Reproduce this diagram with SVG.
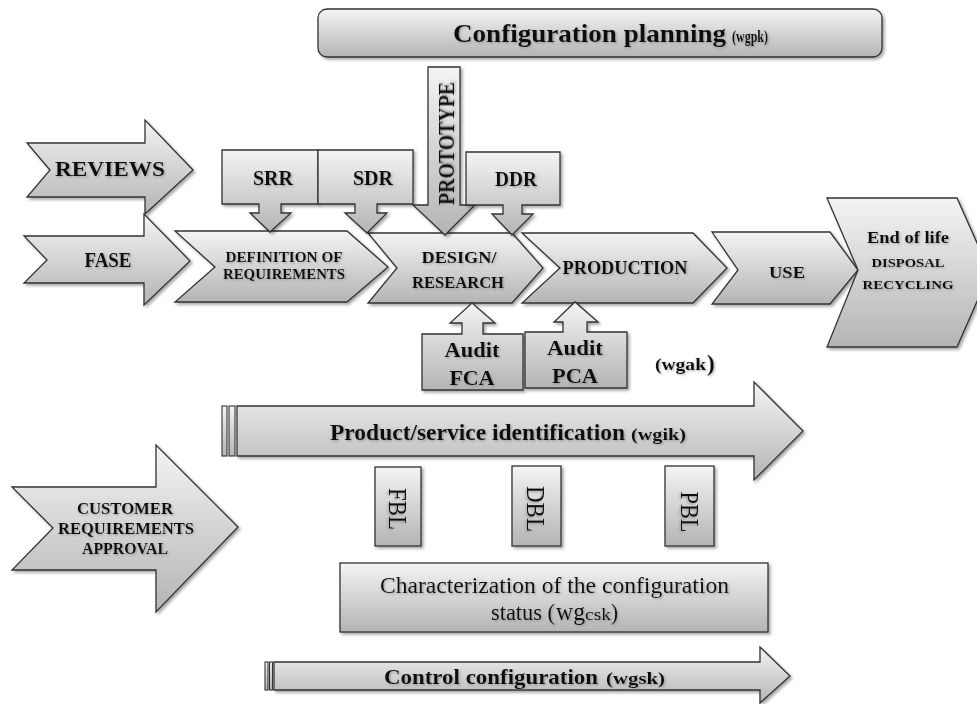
<svg xmlns="http://www.w3.org/2000/svg" width="977" height="704" viewBox="0 0 977 704" font-family="'Liberation Serif', 'Times New Roman', Times, serif">
  <defs>
    <linearGradient id="gFill" x1="0" y1="0" x2="0" y2="1">
      <stop offset="0" stop-color="#f4f4f4"/>
      <stop offset="1" stop-color="#b4b4b4"/>
    </linearGradient>
    <filter id="shade" x="-10%" y="-10%" width="125%" height="130%">
      <feDropShadow dx="2" dy="2" stdDeviation="1.5" flood-color="#000" flood-opacity="0.35"/>
    </filter>
    <filter id="tshade" x="-5%" y="-20%" width="115%" height="150%">
      <feDropShadow dx="1.2" dy="1.2" stdDeviation="0.8" flood-color="#777" flood-opacity="0.6"/>
    </filter>
  </defs>
  <style>
    .shape { fill: url(#gFill); stroke: #333; stroke-width: 1.3; stroke-linejoin: miter; filter: url(#shade); }
    .bar { fill: url(#gFill); stroke: #333; stroke-width: 1.1; }
    text { font-family: 'Liberation Serif', serif; fill: #111; filter: url(#tshade); }
    .b { font-weight: bold; }
    .c { text-anchor: middle; }
  </style>

  <rect width="977" height="704" fill="#fff"/>

  <!-- top banner -->
  <g id="config-planning">
    <rect class="shape" x="318" y="9" width="564" height="48" rx="9"/>
    <text class="b" x="453" y="42" font-size="26" textLength="273" lengthAdjust="spacingAndGlyphs">Configuration planning</text>
    <text class="b" x="732" y="42" font-size="17" textLength="36" lengthAdjust="spacingAndGlyphs">(wgpk)</text>
  </g>

  <!-- left-hand row labels -->
  <g id="reviews">
    <path class="shape" d="M27,143 H145 V120 L193,170 L145,214 V197 H27 L50,170 Z"/>
    <text class="b c" x="110" y="176" font-size="22" textLength="110" lengthAdjust="spacingAndGlyphs">REVIEWS</text>
  </g>
  <g id="fase">
    <path class="shape" d="M24,236 H144 V214 L190,261 L144,305 V283 H24 L47,260 Z"/>
    <text class="b c" x="108" y="267" font-size="20" textLength="47" lengthAdjust="spacingAndGlyphs">FASE</text>
  </g>

  <!-- life-cycle phases -->
  <g id="definition">
    <path class="shape" d="M175,231 H347 L388,267 L347,302 H175 L215,267 Z"/>
    <text class="b c" x="284" y="262" font-size="14.5" textLength="117" lengthAdjust="spacingAndGlyphs">DEFINITION OF</text>
    <text class="b c" x="284" y="279" font-size="14.5" textLength="122" lengthAdjust="spacingAndGlyphs">REQUIREMENTS</text>
  </g>
  <g id="design">
    <path class="shape" d="M368,233 H512 L543,268 L512,303 H368 L397,268 Z"/>
    <text class="b c" x="459" y="263" font-size="17.5" textLength="75" lengthAdjust="spacingAndGlyphs">DESIGN/</text>
    <text class="b c" x="458" y="288" font-size="17.5" textLength="92" lengthAdjust="spacingAndGlyphs">RESEARCH</text>
  </g>
  <g id="production">
    <path class="shape" d="M522,233 H693 L727,268 L693,303 H522 L560,268 Z"/>
    <text class="b c" x="625" y="274" font-size="19" textLength="125" lengthAdjust="spacingAndGlyphs">PRODUCTION</text>
  </g>
  <g id="use">
    <path class="shape" d="M712,232 H830 L858,270 L830,304 H712 L738,270 Z"/>
    <text class="b c" x="787" y="278" font-size="17" textLength="36" lengthAdjust="spacingAndGlyphs">USE</text>
  </g>
  <g id="end-of-life">
    <path class="shape" d="M827,198 H957 L990,272 L957,347 H827 L858,270 Z"/>
    <text class="b c" x="908" y="243" font-size="17.5" textLength="82" lengthAdjust="spacingAndGlyphs">End of life</text>
    <text class="b c" x="908" y="267" font-size="13.5" textLength="73" lengthAdjust="spacingAndGlyphs">DISPOSAL</text>
    <text class="b c" x="908" y="289" font-size="13.5" textLength="91" lengthAdjust="spacingAndGlyphs">RECYCLING</text>
  </g>

  <!-- review callouts -->
  <g id="srr">
    <path class="shape" d="M222,150 H318 V204 H281 V213 H291 L270,232 L250,213 H259 V204 H222 Z"/>
    <text class="b c" x="273" y="185" font-size="20" textLength="40" lengthAdjust="spacingAndGlyphs">SRR</text>
  </g>
  <g id="sdr">
    <path class="shape" d="M318,150 H413 V204 H377 V213 H387 L367,233 L345,213 H355 V204 H318 Z"/>
    <text class="b c" x="373" y="185" font-size="20" textLength="40" lengthAdjust="spacingAndGlyphs">SDR</text>
  </g>
  <g id="prototype">
    <path class="shape" d="M428,67 H460 V205 H475 L445,235 L413,205 H428 Z"/>
    <text class="b c" transform="translate(454,143.5) rotate(-90)" x="0" y="0" font-size="23" textLength="123" lengthAdjust="spacingAndGlyphs">PROTOTYPE</text>
  </g>
  <g id="ddr">
    <path class="shape" d="M466,152 H560 V205 H522 V214 H533 L512,235 L492,214 H503 V205 H466 Z"/>
    <text class="b c" x="516" y="186" font-size="20" textLength="42" lengthAdjust="spacingAndGlyphs">DDR</text>
  </g>

  <!-- audit callouts -->
  <g id="audit-fca">
    <path class="shape" d="M422,334 H462 V323 H450 L472,303 L495,323 H483 V334 H523 V390 H422 Z"/>
    <text class="b c" x="472" y="357" font-size="20" textLength="55" lengthAdjust="spacingAndGlyphs">Audit</text>
    <text class="b c" x="472" y="385" font-size="20" textLength="45" lengthAdjust="spacingAndGlyphs">FCA</text>
  </g>
  <g id="audit-pca">
    <path class="shape" d="M525,332 H563 V322 H554 L575,302 L598,322 H587 V332 H627 V388 H525 Z"/>
    <text class="b c" x="575" y="355" font-size="20" textLength="56" lengthAdjust="spacingAndGlyphs">Audit</text>
    <text class="b c" x="575" y="383" font-size="20" textLength="46" lengthAdjust="spacingAndGlyphs">PCA</text>
  </g>
  <g id="wgak">
    <text class="b" x="655" y="370" font-size="17" textLength="51" lengthAdjust="spacingAndGlyphs">(wgak</text>
    <text class="b" x="707" y="371" font-size="23">)</text>
  </g>

  <!-- product / service identification -->
  <g id="identification">
    <rect class="bar" x="222" y="406" width="5" height="50"/>
    <rect class="bar" x="229" y="406" width="6" height="50"/>
    <path class="shape" d="M237,406 H754 V382 L803,431 L754,480 V456 H237 Z"/>
    <text class="b" x="330" y="440" font-size="22.5" textLength="295" lengthAdjust="spacingAndGlyphs">Product/service identification</text>
    <text class="b" x="631" y="440" font-size="17" textLength="55" lengthAdjust="spacingAndGlyphs">(wgik)</text>
  </g>

  <!-- baselines -->
  <g id="fbl">
    <rect class="shape" x="375" y="467" width="46" height="79"/>
    <text class="c" transform="translate(389,509) rotate(90)" font-size="25" textLength="42" lengthAdjust="spacingAndGlyphs">FBL</text>
  </g>
  <g id="dbl">
    <rect class="shape" x="512" y="466" width="49" height="80"/>
    <text class="c" transform="translate(527,509) rotate(90)" font-size="25" textLength="46" lengthAdjust="spacingAndGlyphs">DBL</text>
  </g>
  <g id="pbl">
    <rect class="shape" x="665" y="466" width="49" height="80"/>
    <text class="c" transform="translate(681,512) rotate(90)" font-size="25" textLength="41" lengthAdjust="spacingAndGlyphs">PBL</text>
  </g>

  <g id="customer-approval">
    <path class="shape" d="M12,487 H156 V445 L238,527 L156,612 V570 H12 L53,528 Z"/>
    <text class="b c" x="125" y="514" font-size="16" textLength="96" lengthAdjust="spacingAndGlyphs">CUSTOMER</text>
    <text class="b c" x="126" y="534" font-size="16" textLength="136" lengthAdjust="spacingAndGlyphs">REQUIREMENTS</text>
    <text class="b c" x="125" y="554" font-size="16" textLength="86" lengthAdjust="spacingAndGlyphs">APPROVAL</text>
  </g>

  <!-- status accounting -->
  <g id="status">
    <rect class="shape" x="340" y="563" width="428" height="69"/>
    <text x="380" y="593" font-size="23" textLength="349" lengthAdjust="spacingAndGlyphs">Characterization of the configuration</text>
    <text x="491" y="620" font-size="23" textLength="64" lengthAdjust="spacingAndGlyphs">status (</text>
    <text x="556" y="620" font-size="25" textLength="29" lengthAdjust="spacingAndGlyphs">wg</text>
    <text x="585" y="620" font-size="16" textLength="26" lengthAdjust="spacingAndGlyphs">csk</text>
    <text x="611" y="620" font-size="23" textLength="7" lengthAdjust="spacingAndGlyphs">)</text>
  </g>

  <!-- control -->
  <g id="control">
    <rect class="bar" x="265" y="662" width="3" height="28"/>
    <rect class="bar" x="269.5" y="662" width="3" height="28"/>
    <path class="shape" d="M274,662 H760 V647 L790,676 L760,703 V690 H274 Z"/>
    <text class="b" x="384" y="684" font-size="22" textLength="214" lengthAdjust="spacingAndGlyphs">Control configuration</text>
    <text class="b" x="606" y="684" font-size="17" textLength="59" lengthAdjust="spacingAndGlyphs">(wgsk)</text>
  </g>

  <g id="connectors"/>
</svg>
